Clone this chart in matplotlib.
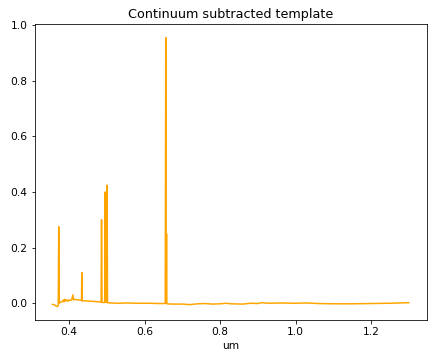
import matplotlib
matplotlib.use("Agg")
import matplotlib.pyplot as plt

# wavelength (um) and continuum-subtracted flux
wavelength = [0.356, 0.362, 0.366, 0.369, 0.3715, 0.3727, 0.3740, 0.377, 0.380,
              0.3835, 0.3850, 0.3870, 0.3889, 0.3900, 0.3935, 0.3970, 0.3990,
              0.4030, 0.4070, 0.4102, 0.4120, 0.4150, 0.4200, 0.4250, 0.4300,
              0.4330, 0.4340, 0.4350, 0.440, 0.450, 0.460, 0.470, 0.480,
              0.4850, 0.4861, 0.4875, 0.4945, 0.4959, 0.4970, 0.4995, 0.5007,
              0.5020, 0.510, 0.530, 0.550, 0.580, 0.610, 0.640, 0.6540,
              0.6548, 0.6563, 0.6572, 0.6583, 0.6592, 0.670, 0.700, 0.720,
              0.740, 0.760, 0.780, 0.800, 0.815, 0.830, 0.860, 0.880, 0.900,
              0.910, 0.930, 0.960, 1.000, 1.030, 1.060, 1.100, 1.150, 1.200,
              1.250, 1.300]
flux = [-0.004, -0.006, -0.010, -0.012, -0.008, 0.275, 0.000, 0.004, 0.006,
        0.005, 0.012, 0.006, 0.014, 0.008, 0.012, 0.007, 0.012,
        0.010, 0.012, 0.030, 0.012, 0.014, 0.013, 0.012, 0.011,
        0.010, 0.110, 0.008, 0.009, 0.008, 0.007, 0.006, 0.005,
        0.004, 0.300, 0.003, 0.003, 0.400, 0.003, 0.003, 0.425,
        0.002, 0.001, 0.000, 0.001, 0.000, 0.000, -0.001, -0.001,
        0.000, 0.955, 0.000, 0.250, -0.002, -0.003, -0.003, -0.005,
        -0.002, -0.001, -0.003, -0.002, 0.000, -0.002, -0.003, 0.000, -0.001,
        0.002, 0.000, 0.001, 0.000, 0.001, -0.001, -0.002, -0.002, -0.001,
        0.000, 0.002]

title = "Continuum subtracted template"
xlabel = "um"

plt.rcParams["font.size"] = 10.6
fig = plt.figure(figsize=(438 / 72, 360 / 72), dpi=72)
ax = fig.add_axes([0.079, 0.111, 0.895, 0.822])
ax.plot(wavelength, flux, color="orange", linewidth=1.5)
ax.set_title(title)
ax.set_xlabel(xlabel)
fig.savefig("out.png", dpi=72)
